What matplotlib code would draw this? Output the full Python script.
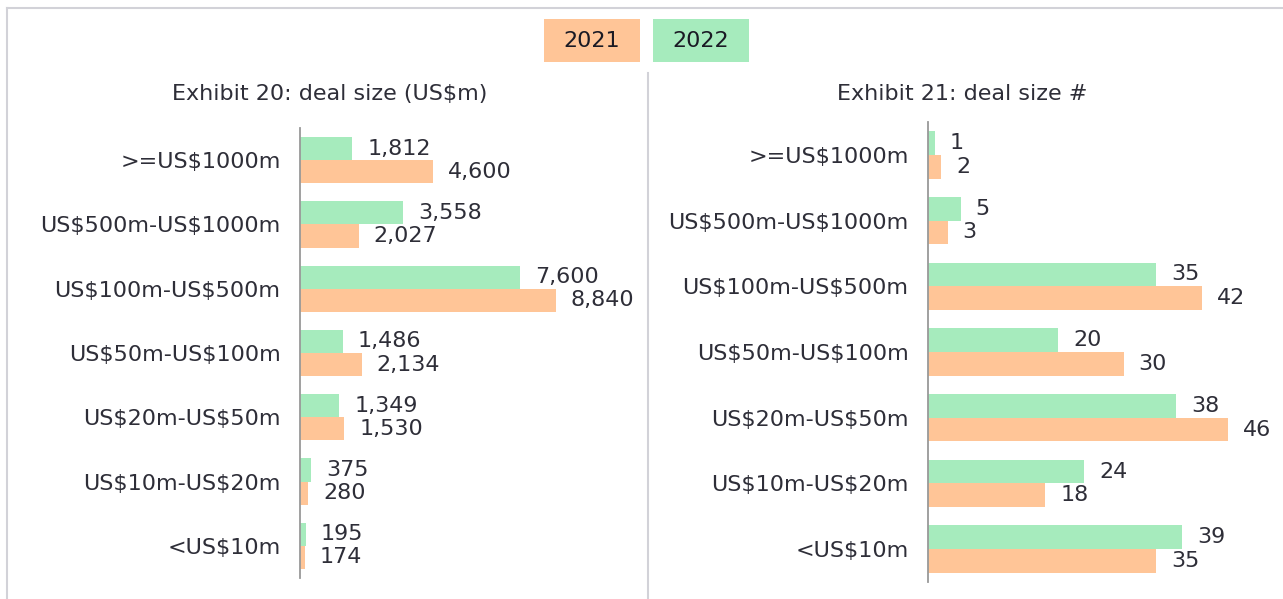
import matplotlib
matplotlib.use("Agg")
import matplotlib.pyplot as plt
from matplotlib.lines import Line2D
from matplotlib.patches import Rectangle
import numpy as np

plt.rcParams['text.parse_math'] = False

categories = ['>=US$1000m', 'US$500m-US$1000m', 'US$100m-US$500m',
              'US$50m-US$100m', 'US$20m-US$50m', 'US$10m-US$20m', '<US$10m']
value_2022 = [1812, 3558, 7600, 1486, 1349, 375, 195]
value_2021 = [4600, 2027, 8840, 2134, 1530, 280, 174]
count_2022 = [1, 5, 35, 20, 38, 24, 39]
count_2021 = [2, 3, 42, 30, 46, 18, 35]

c21 = '#FFC597'
c22 = '#A6EBBD'
txt = '#2E2E38'
frame = '#D2D2D8'

W, H = 1283, 599
fig = plt.figure(figsize=(W / 100, H / 100), dpi=100)


def px(x, y):
    return x / W, 1 - y / H


def draw(ax, v22, v21, xmax, fmt):
    y = np.arange(len(categories))
    h = 0.36
    b22 = ax.barh(y - h / 2, v22, height=h, color=c22)
    b21 = ax.barh(y + h / 2, v21, height=h, color=c21)
    for bars, vals in ((b22, v22), (b21, v21)):
        for b, v in zip(bars, vals):
            ax.annotate(fmt(v), (b.get_width(), b.get_y() + b.get_height() / 2),
                        xytext=(15, 0), textcoords='offset pixels',
                        ha='left', va='center', fontsize=16, color=txt)
    ax.set_xlim(0, xmax)
    ax.set_ylim(6.5, -0.5)
    ax.set_yticks(y)
    ax.set_yticklabels(categories, fontsize=16, color=txt)
    ax.tick_params(axis='y', length=0, pad=14)
    ax.set_xticks([])
    for s in ['top', 'right', 'bottom']:
        ax.spines[s].set_visible(False)
    ax.spines['left'].set_color('#999999')
    ax.spines['left'].set_linewidth(1.3)


ax1 = fig.add_axes([300 / W, 1 - 578 / H, 340 / W, 450 / H])
draw(ax1, value_2022, value_2021, 8840 * 340 / 256, lambda v: f'{v:,}')

ax2 = fig.add_axes([928 / W, 1 - 582 / H, 347 / W, 460 / H])
draw(ax2, count_2022, count_2021, 347 / 6.52, lambda v: f'{v}')

# titles
fig.text(*px(330, 94), 'Exhibit 20: deal size (US$m)', ha='center', va='center',
         fontsize=16, color=txt)
fig.text(*px(962, 94), 'Exhibit 21: deal size #', ha='center', va='center',
         fontsize=16, color=txt)

# legend boxes
for x0, col, lab in ((544, c21, '2021'), (653, c22, '2022')):
    fig.patches.append(Rectangle(px(x0, 62), 96 / W, 43 / H, transform=fig.transFigure,
                                 facecolor=col, edgecolor='none'))
    fig.text(*px(x0 + 48, 41), lab, ha='center', va='center', fontsize=16, color='#1A1A24')

# frame and divider
fig.lines.append(Line2D([7 / W, 1], [1 - 8 / H] * 2, transform=fig.transFigure,
                        color=frame, linewidth=1.5))
fig.lines.append(Line2D([7 / W] * 2, [0, 1 - 8 / H], transform=fig.transFigure,
                        color=frame, linewidth=1.5))
fig.lines.append(Line2D([648 / W] * 2, [0, 1 - 73 / H], transform=fig.transFigure,
                        color=frame, linewidth=1.5))

fig.savefig('out.png', dpi=100)
